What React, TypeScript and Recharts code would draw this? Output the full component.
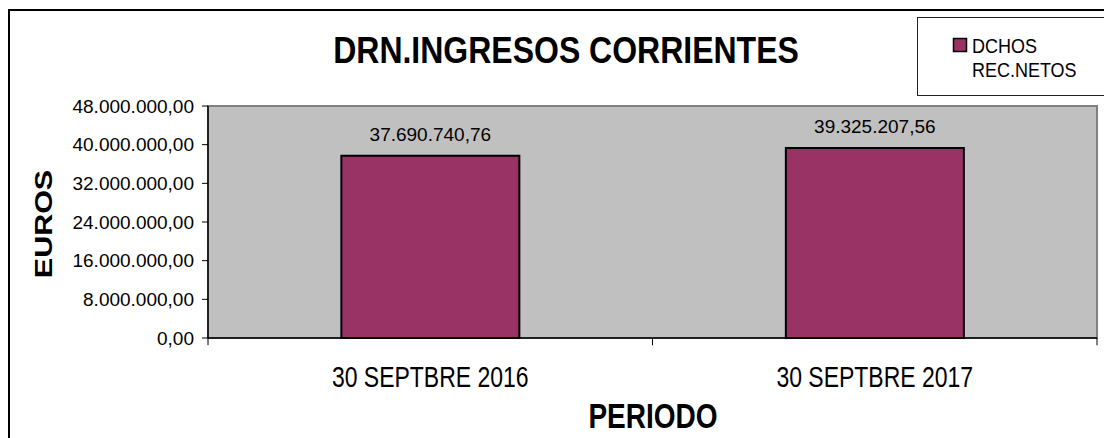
// DRN.INGRESOS CORRIENTES: derechos reconocidos netos a 30 de septiembre (2016 vs 2017)

import { BarChart, Bar, XAxis, YAxis, CartesianGrid, Legend, LabelList, ReferenceArea, ReferenceLine } from 'recharts'

const PERIODOS = ['30 SEPTBRE 2016', '30 SEPTBRE 2017']
const DCHOS_REC_NETOS = [37690740.76, 39325207.56]
const Y_TICKS = [0, 8000000, 16000000, 24000000, 32000000, 40000000, 48000000]
const SERIE = 'DCHOS REC.NETOS'

const BAR_COLOR = '#993366'
const PLOT_BG = '#c0c0c0'
const FONT = '"Liberation Sans", Arial, sans-serif'

// 48000000 -> "48.000.000,00"
function fmt(v: number) {
  const [ent, dec] = Number(v).toFixed(2).split('.')
  return ent.replace(/\B(?=(\d{3})+(?!\d))/g, '.') + ',' + dec
}

const data = PERIODOS.map((p, i) => ({ periodo: p, valor: DCHOS_REC_NETOS[i] }))

function XTick({ x, y, payload }: any) {
  const base = y + 49
  return (
    <text x={x} y={0} transform={`translate(0,${base}) scale(1,1.27)`} textAnchor="middle" fontSize={23} fill="#000" fontFamily={FONT}>
      {payload.value}
    </text>
  )
}

function LegendBox() {
  return (
    <svg width={200} height={79} style={{ display: 'block' }}>
      <rect x={0.5} y={0.5} width={220} height={78} fill="#fff" stroke="#222" />
      <rect x={36.5} y={21.5} width={13} height={13} fill={BAR_COLOR} stroke="#000" strokeWidth={1.5} />
      <g fontFamily={FONT} fontSize={18} fill="#000">
        <text x={0} y={0} transform="translate(55,36) scale(1,1.15)">DCHOS</text>
        <text x={0} y={0} transform="translate(55,60) scale(1,1.15)">REC.NETOS</text>
      </g>
    </svg>
  )
}

export default function App() {
  return (
    <div style={{ position: 'absolute', left: 0, top: 0, width: 1104, height: 438, overflow: 'hidden', background: '#fff' }}>
      <div style={{ position: 'absolute', left: 8, top: 9, width: 1200, height: 500, borderLeft: '2px solid #000', borderTop: '2px solid #000' }} />
      <BarChart
        width={1104}
        height={438}
        data={data}
        margin={{ top: 106, right: 7, bottom: 40, left: 8 }}
        barCategoryGap="30%"
        style={{ position: 'absolute', left: 0, top: 0 }}
      >
        <CartesianGrid horizontal={false} vertical={false} fill={PLOT_BG} fillOpacity={1} />
        <ReferenceArea y1={0} y2={48000000} fill="none" stroke="#808080" strokeWidth={2} />
        <XAxis
          dataKey="periodo"
          height={60}
          tickLine={false}
          tickSize={0}
          tickMargin={0}
          axisLine={{ stroke: '#000', strokeWidth: 1.5 }}
          tick={<XTick />}
          interval={0}
        />
        <YAxis
          width={200}
          domain={[0, 48000000]}
          ticks={Y_TICKS}
          tickFormatter={fmt}
          tickSize={6}
          tickMargin={8}
          axisLine={{ stroke: '#000', strokeWidth: 1.5 }}
          tickLine={{ stroke: '#000' }}
          tick={{ fontSize: 19, fill: '#000', fontFamily: FONT }}
        />
        {PERIODOS.map((p) => (
          <ReferenceLine key={p} segment={[{ x: p, y: 0 }, { x: p, y: -1500000 }]} position="start" stroke="#000" ifOverflow="visible" />
        ))}
        <ReferenceLine
          segment={[{ x: PERIODOS[PERIODOS.length - 1], y: 0 }, { x: PERIODOS[PERIODOS.length - 1], y: -1500000 }]}
          position="end"
          stroke="#000"
          ifOverflow="visible"
        />
        <Legend
          layout="horizontal"
          verticalAlign="middle"
          align="center"
          wrapperStyle={{ left: 917, top: 17, width: 200, height: 79 }}
          content={() => <LegendBox />}
        />
        <Bar dataKey="valor" name={SERIE} fill={BAR_COLOR} stroke="#000" strokeWidth={2} isAnimationActive={false}>
          <LabelList dataKey="valor" position="top" offset={15} formatter={(v: any) => fmt(v)} fontSize={19} fill="#000" fontFamily={FONT} />
        </Bar>
        <text x={0} y={0} transform="translate(566,63) scale(1,1.18)" textAnchor="middle" fontSize={32} fontWeight="bold" fill="#000" fontFamily={FONT}>
          DRN.INGRESOS CORRIENTES
        </text>
        <text x={0} y={0} transform="translate(653,428) scale(1,1.25)" textAnchor="middle" fontSize={28} fontWeight="bold" fill="#000" fontFamily={FONT}>
          PERIODO
        </text>
        <text x={0} y={0} transform="translate(52,224) scale(1,1.27) rotate(-90)" textAnchor="middle" fontSize={24} fontWeight="bold" fill="#000" fontFamily={FONT}>
          EUROS
        </text>
      </BarChart>
    </div>
  )
}
